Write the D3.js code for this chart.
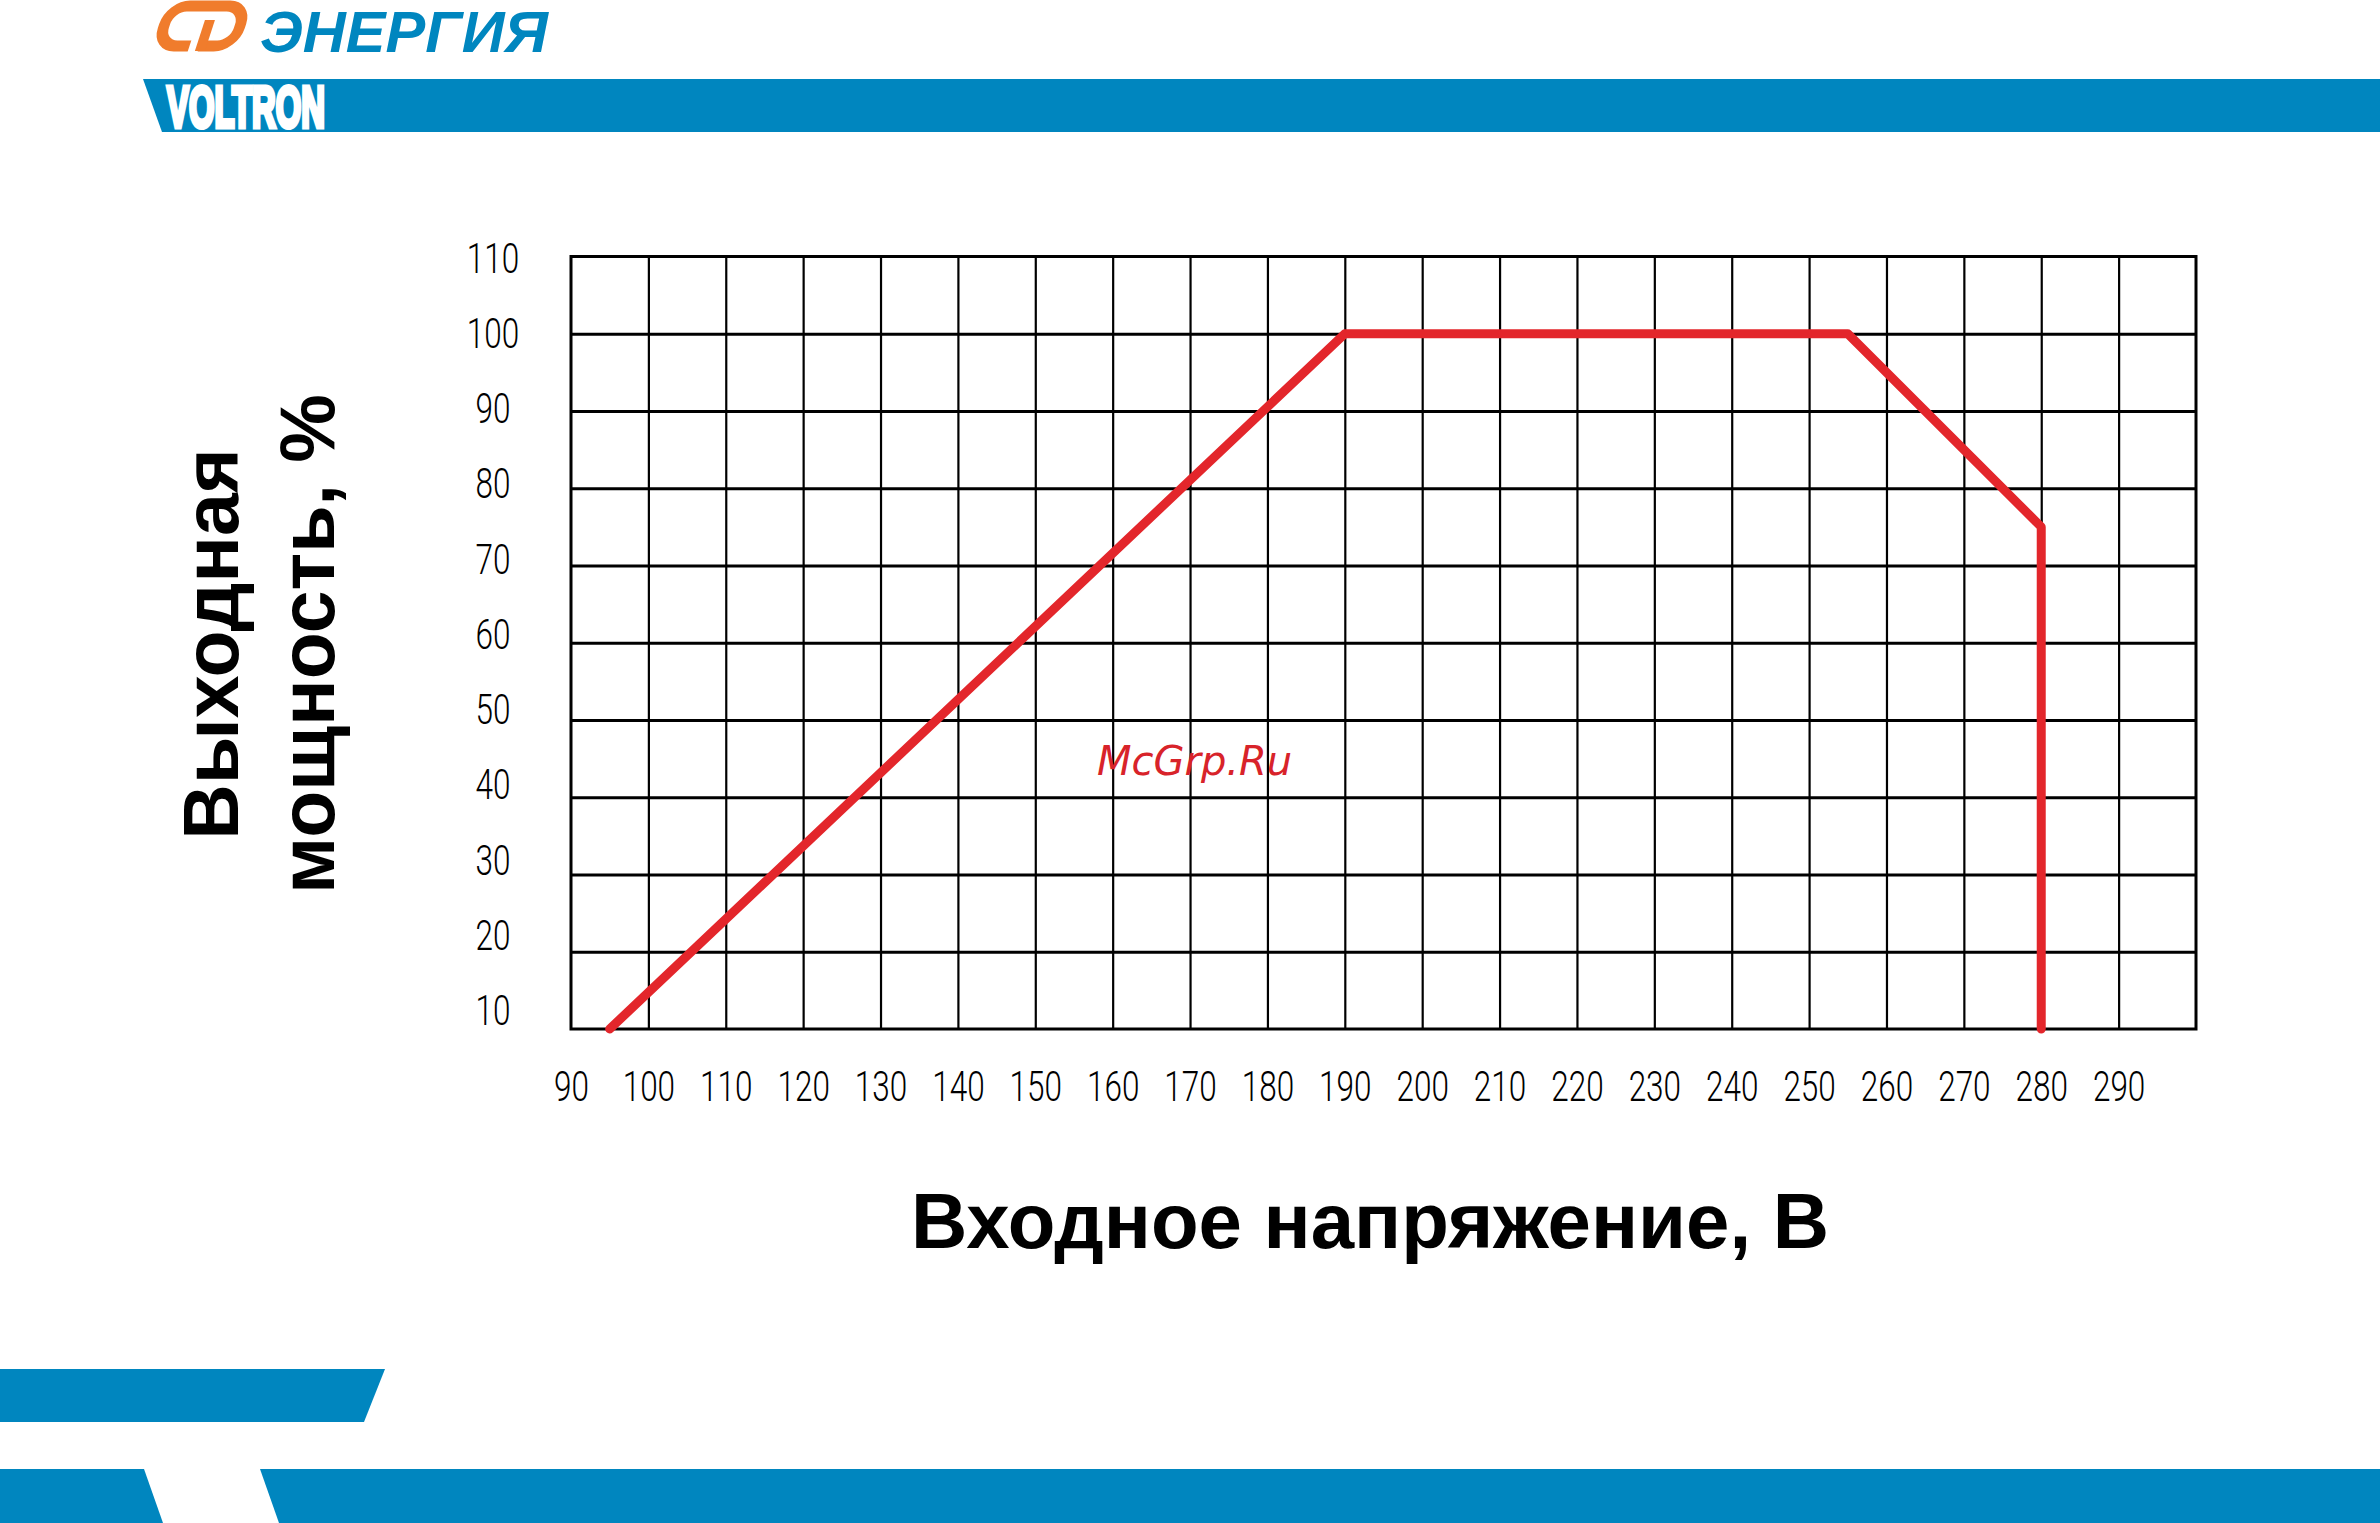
<!DOCTYPE html>
<html>
<head>
<meta charset="utf-8">
<script src="https://cdn.jsdelivr.net/npm/d3@7"></script>
<style>
  html, body { margin: 0; padding: 0; background: #ffffff; }
  svg { display: block; }
</style>
</head>
<body>
<script>
// ---- data ----
const voltage = [95, 190, 255, 280, 280];          // input voltage, V
const power   = [10, 100, 100, 75, 10];            // output power, %
const xTickLabels = [90,100,110,120,130,140,150,160,170,180,190,200,210,220,230,240,250,260,270,280,290];
const yTickLabels = [10,20,30,40,50,60,70,80,90,100,110];
const xGrid = [100,110,120,130,140,150,160,170,180,190,200,210,220,230,240,250,260,270,280,290];
const yGrid = [20,30,40,50,60,70,80,90,100];
const xTitle = "Входное напряжение, В";
const yTitle = ["Выходная", "мощность, %"];
const watermark = "McGrp.Ru";
const brand = "ЭНЕРГИЯ";
const subBrand = "VOLTRON";

// ---- canvas ----
const W = 2380, H = 1523;
const svg = d3.select("body").append("svg").attr("width", W).attr("height", H);
svg.append("rect").attr("width", W).attr("height", H).attr("fill", "#fff");

const BLUE = "#0086BF", ORANGE = "#F07C2C", RED = "#E3262B";

// ---- header / footer decoration ----
const deco = svg.append("g");
deco.append("polygon").attr("points", "143,79 2380,79 2380,132 162,132").attr("fill", BLUE);
deco.append("polygon").attr("points", "0,1369 385,1369 364,1422 0,1422").attr("fill", BLUE);
deco.append("polygon").attr("points", "0,1469 144,1469 163,1523 0,1523").attr("fill", BLUE);
deco.append("polygon").attr("points", "260,1469 2380,1469 2380,1523 279,1523").attr("fill", BLUE);

// VOLTRON mark
deco.append("text").attr("x", 167).attr("y", 127)
  .attr("textLength", 158).attr("lengthAdjust", "spacingAndGlyphs")
  .attr("font-family", "Liberation Sans, Arial, sans-serif").attr("font-weight", 900)
  .attr("font-size", 58).attr("fill", "#fff").attr("stroke", "#fff").attr("stroke-width", 5)
  .text(subBrand);

// Energia logo symbol
const sym = deco.append("g").attr("transform", "translate(202,26) skewX(-18)");
sym.append("rect").attr("x", -38).attr("y", -20).attr("width", 76).attr("height", 40)
  .attr("rx", 18).attr("fill", "none").attr("stroke", ORANGE).attr("stroke-width", 11);
sym.append("rect").attr("x", -6).attr("y", 12).attr("width", 10).attr("height", 16).attr("fill", "#fff");
sym.append("line").attr("x1", 6).attr("y1", -6).attr("x2", 6).attr("y2", 25)
  .attr("stroke", ORANGE).attr("stroke-width", 10);

deco.append("text").attr("x", 260).attr("y", 52)
  .attr("textLength", 288).attr("lengthAdjust", "spacingAndGlyphs")
  .attr("font-family", "Liberation Sans, Arial, sans-serif").attr("font-weight", 700)
  .attr("font-style", "italic").attr("font-size", 57).attr("fill", BLUE)
  .text(brand);

// ---- scales ----
const x = d3.scaleLinear().domain([90, 300]).range([571, 2196]);
const y = d3.scaleLinear().domain([10, 110]).range([1029, 256.5]);
const yLabel = d3.scaleLinear().domain([10, 110]).range([y(10) - 4, y(110) + 16]);

// ---- grid via axes ----
const gx = svg.append("g").attr("transform", `translate(0,${y(10)})`)
  .call(d3.axisBottom(x).tickValues(xGrid).tickSize(-(y(10) - y(110))).tickFormat(""));
gx.select(".domain").remove();
gx.selectAll("line").attr("stroke", "#000").attr("stroke-width", 2.2);

const gy = svg.append("g").attr("transform", `translate(${x(90)},0)`)
  .call(d3.axisLeft(y).tickValues(yGrid).tickSize(-(x(300) - x(90))).tickFormat(""));
gy.select(".domain").remove();
gy.selectAll("line").attr("stroke", "#000").attr("stroke-width", 3);

// frame
svg.append("rect").attr("x", x(90)).attr("y", y(110))
  .attr("width", x(300) - x(90)).attr("height", y(10) - y(110))
  .attr("fill", "none").attr("stroke", "#000").attr("stroke-width", 3);

// ---- tick labels ----
const tickFont = "Roboto, 'Noto Sans', sans-serif";
const xl = svg.append("g").attr("transform", `translate(0,1101)`)
  .call(d3.axisBottom(x).tickValues(xTickLabels).tickSize(0).tickPadding(0).tickFormat(d3.format("d")));
xl.select(".domain").remove();
xl.selectAll("text")
  .attr("y", 0).attr("dy", 0).attr("x", 0)
  .attr("transform", "scale(0.75,1)")
  .attr("font-family", tickFont).attr("font-weight", 300).attr("font-size", 42)
  .attr("fill", "#000").attr("text-anchor", "middle");

const yl = svg.append("g").attr("transform", `translate(493,0)`)
  .call(d3.axisLeft(y).tickValues(yTickLabels).tickSize(0).tickPadding(0).tickFormat(d3.format("d")));
yl.select(".domain").remove();
yl.selectAll(".tick").attr("transform", d => `translate(0,${yLabel(d)})`);
yl.selectAll("text")
  .attr("x", 0).attr("y", 0).attr("dy", 0)
  .attr("transform", "scale(0.75,1)")
  .attr("font-family", tickFont).attr("font-weight", 300).attr("font-size", 42)
  .attr("fill", "#000").attr("text-anchor", "middle");

// ---- watermark ----
svg.append("text").attr("x", 1097).attr("y", 775)
  .attr("font-family", "DejaVu Sans, sans-serif").attr("font-style", "oblique")
  .attr("font-size", 40).attr("fill", "#D8232A").text(watermark);

// ---- data line ----
const pts = voltage.map((v, i) => [v, power[i]]);
svg.append("path").datum(pts)
  .attr("d", d3.line().x(d => x(d[0])).y(d => y(d[1])))
  .attr("fill", "none").attr("stroke", RED).attr("stroke-width", 9)
  .attr("stroke-linejoin", "round").attr("stroke-linecap", "round");

// ---- titles ----
const titleFont = "'Liberation Sans', Arial, Helvetica, sans-serif";
svg.append("text").attr("x", 1370).attr("y", 1248)
  .attr("text-anchor", "middle").attr("font-family", titleFont)
  .attr("font-weight", 700).attr("font-size", 78).attr("fill", "#000").text(xTitle);

const ytx = [238, 334];
yTitle.forEach((t, i) => {
  svg.append("text").attr("transform", `translate(${ytx[i]},644) rotate(-90)`)
    .attr("text-anchor", "middle").attr("font-family", titleFont)
    .attr("font-weight", 700).attr("font-size", 77).attr("fill", "#000").text(t);
});
</script>
</body>
</html>
